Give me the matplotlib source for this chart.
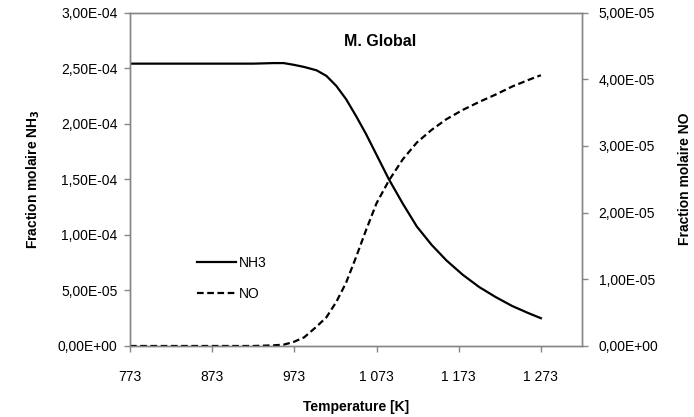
import matplotlib
matplotlib.use("Agg")
import matplotlib.pyplot as plt
from matplotlib.ticker import FuncFormatter, MultipleLocator

plt.rcParams['font.family'] = ['Liberation Sans', 'DejaVu Sans']

# data
temp = [773, 823, 873, 923, 948, 960, 972, 985, 1000, 1012, 1024, 1036, 1048,
        1060, 1073, 1088, 1105, 1122, 1140, 1158, 1178, 1198, 1218, 1238, 1258, 1273]
nh3 = [2.54, 2.54, 2.54, 2.54, 2.545, 2.545, 2.53, 2.51, 2.48, 2.43, 2.34, 2.22, 2.07,
       1.91, 1.72, 1.50, 1.28, 1.075, 0.91, 0.77, 0.64, 0.53, 0.44, 0.36, 0.295, 0.25]
no = [0, 0, 0, 0, 0.01, 0.02, 0.06, 0.13, 0.29, 0.43, 0.66, 0.95, 1.33,
      1.73, 2.14, 2.48, 2.80, 3.05, 3.24, 3.40, 3.54, 3.66, 3.77, 3.89, 3.99, 4.06]
nh3 = [v * 1e-4 for v in nh3]
no = [v * 1e-5 for v in no]
xticks = [773, 873, 973, 1073, 1173, 1273]

grey = "#868686"

def sci(v, pos):
    s = "%.2E" % v
    return s.replace(".", ",")

def thou(v, pos):
    return "{:,}".format(int(round(v))).replace(",", " ")

fig = plt.figure(figsize=(6.94, 4.17), dpi=100)
ax = fig.add_axes([0.1873, 0.1703, 0.6513, 0.7997])
ax2 = ax.twinx()

l1, = ax.plot(temp, nh3, color="black", lw=1.6, label="NH3", solid_joinstyle="round")
l2, = ax2.plot(temp, no, color="black", lw=1.6, ls=(0, (3.0, 1.6)), label="NO")

ax.set_xlim(773, 1323)
ax.set_ylim(0, 3e-4)
ax2.set_ylim(0, 5e-5)
ax.set_xticks(xticks)
ax.xaxis.set_major_formatter(FuncFormatter(thou))
ax.yaxis.set_major_locator(MultipleLocator(5e-5))
ax2.yaxis.set_major_locator(MultipleLocator(1e-5))
ax.yaxis.set_major_formatter(FuncFormatter(sci))
ax2.yaxis.set_major_formatter(FuncFormatter(sci))

for a in (ax, ax2):
    for sp in a.spines.values():
        sp.set_color(grey)
        sp.set_linewidth(1.0)
    a.tick_params(colors=grey, labelcolor="black", labelsize=10, length=4, width=1)
ax.tick_params(axis="x", pad=13)
ax.tick_params(axis="y", pad=5)
ax2.tick_params(axis="y", pad=8)

ax.set_xlabel("Temperature [K]", fontsize=10, fontweight="bold", labelpad=12)
ax.set_ylabel("Fraction molaire NH$_\\mathbf{3}$", fontsize=10, fontweight="bold", labelpad=11)
ax2.set_ylabel("Fraction molaire NO", fontsize=10, fontweight="bold", labelpad=14)

ax.text(0.553, 0.913, "M. Global", transform=ax.transAxes, ha="center", va="center",
        fontsize=11.5, fontweight="bold")

ax2.legend([l1, l2], ["NH3", "NO"], loc="center left", bbox_to_anchor=(0.12, 0.203),
           frameon=False, fontsize=10, handlelength=2.8, handletextpad=0.2,
           labelspacing=1.2)

fig.savefig("out.png", dpi=100)
